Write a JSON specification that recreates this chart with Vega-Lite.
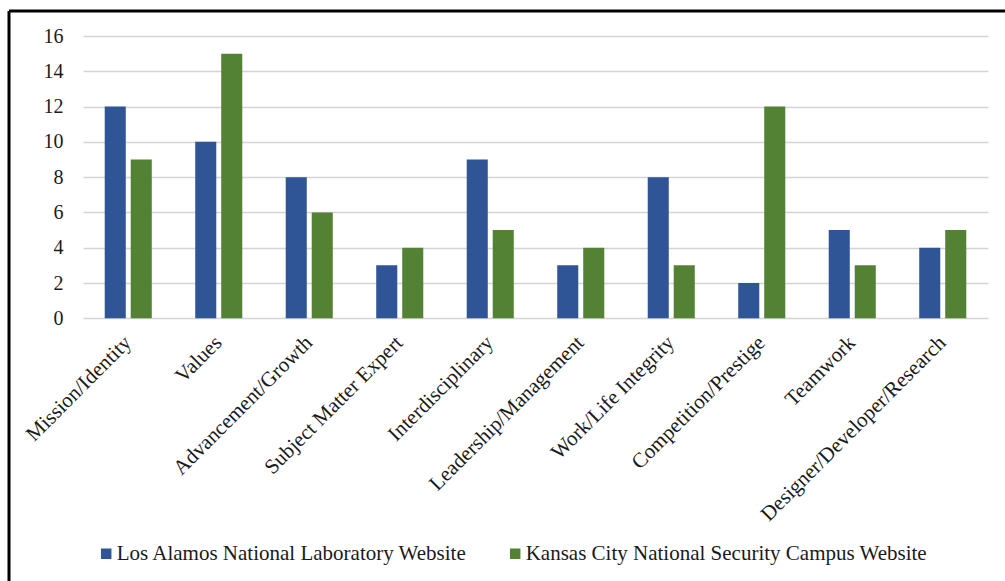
{
  "$schema": "https://vega.github.io/schema/vega-lite/v6.json",
  "width": 996,
  "height": 570,
  "autosize": {"type": "none"},
  "padding": {"left": 9, "top": 11, "right": 0, "bottom": 0},
  "background": "#ffffff",
  "data": {
    "values": [
      {"theme": "Mission/Identity", "source": "Los Alamos National Laboratory Website", "count": 12},
      {"theme": "Mission/Identity", "source": "Kansas City National Security Campus Website", "count": 9},
      {"theme": "Values", "source": "Los Alamos National Laboratory Website", "count": 10},
      {"theme": "Values", "source": "Kansas City National Security Campus Website", "count": 15},
      {"theme": "Advancement/Growth", "source": "Los Alamos National Laboratory Website", "count": 8},
      {"theme": "Advancement/Growth", "source": "Kansas City National Security Campus Website", "count": 6},
      {"theme": "Subject Matter Expert", "source": "Los Alamos National Laboratory Website", "count": 3},
      {"theme": "Subject Matter Expert", "source": "Kansas City National Security Campus Website", "count": 4},
      {"theme": "Interdisciplinary", "source": "Los Alamos National Laboratory Website", "count": 9},
      {"theme": "Interdisciplinary", "source": "Kansas City National Security Campus Website", "count": 5},
      {"theme": "Leadership/Management", "source": "Los Alamos National Laboratory Website", "count": 3},
      {"theme": "Leadership/Management", "source": "Kansas City National Security Campus Website", "count": 4},
      {"theme": "Work/Life Integrity", "source": "Los Alamos National Laboratory Website", "count": 8},
      {"theme": "Work/Life Integrity", "source": "Kansas City National Security Campus Website", "count": 3},
      {"theme": "Competition/Prestige", "source": "Los Alamos National Laboratory Website", "count": 2},
      {"theme": "Competition/Prestige", "source": "Kansas City National Security Campus Website", "count": 12},
      {"theme": "Teamwork", "source": "Los Alamos National Laboratory Website", "count": 5},
      {"theme": "Teamwork", "source": "Kansas City National Security Campus Website", "count": 3},
      {"theme": "Designer/Developer/Research", "source": "Los Alamos National Laboratory Website", "count": 4},
      {"theme": "Designer/Developer/Research", "source": "Kansas City National Security Campus Website", "count": 5}
    ]
  },
  "mark": {"type": "bar"},
  "encoding": {
    "x": {
      "field": "theme",
      "type": "nominal",
      "sort": null,
      "title": null,
      "scale": {"range": [74, 979], "paddingInner": 0.48, "paddingOuter": 0.24},
      "axis": {
        "orient": "bottom",
        "offset": -262.7,
        "domain": false,
        "ticks": false,
        "labelAngle": -45,
        "labelAlign": "right",
        "labelBaseline": "middle",
        "labelPadding": 21,
        "labelFont": "Liberation Serif",
        "labelFontSize": 21,
        "labelColor": "#1a1a1a",
        "labelLimit": 500,
        "labelOverlap": false,
        "labelBound": false
      }
    },
    "xOffset": {
      "field": "source",
      "type": "nominal",
      "sort": ["Los Alamos National Laboratory Website", "Kansas City National Security Campus Website"],
      "scale": {"paddingInner": 0.19, "paddingOuter": 0}
    },
    "y": {
      "field": "count",
      "type": "quantitative",
      "title": null,
      "scale": {"domain": [0, 16], "range": [307.3, 25], "nice": false},
      "axis": {
        "orient": "left",
        "offset": -74,
        "values": [0, 2, 4, 6, 8, 10, 12, 14, 16],
        "domain": false,
        "ticks": false,
        "tickSize": 0,
        "labelPadding": 20,
        "labelFont": "Liberation Serif",
        "labelFontSize": 20,
        "labelColor": "#1a1a1a",
        "grid": true,
        "gridColor": "#d4d4d4",
        "gridWidth": 1.6
      }
    },
    "color": {
      "field": "source",
      "type": "nominal",
      "title": null,
      "scale": {
        "domain": ["Los Alamos National Laboratory Website", "Kansas City National Security Campus Website"],
        "range": ["#2f5597", "#548235"]
      },
      "legend": {
        "orient": "none",
        "legendX": 86.7,
        "legendY": 532,
        "direction": "horizontal",
        "columns": 2,
        "columnPadding": 37,
        "padding": 0,
        "symbolType": "square",
        "symbolSize": 110,
        "symbolStrokeWidth": 0,
        "symbolOpacity": 1,
        "labelOffset": 0,
        "labelFont": "Liberation Serif",
        "labelFontSize": 21,
        "labelColor": "#1a1a1a",
        "labelLimit": 0
      }
    }
  },
  "config": {
    "view": {
      "stroke": "#000000",
      "strokeWidth": 3,
      "strokeDash": [996, 1566, 570, 0],
      "fill": null
    }
  }
}
